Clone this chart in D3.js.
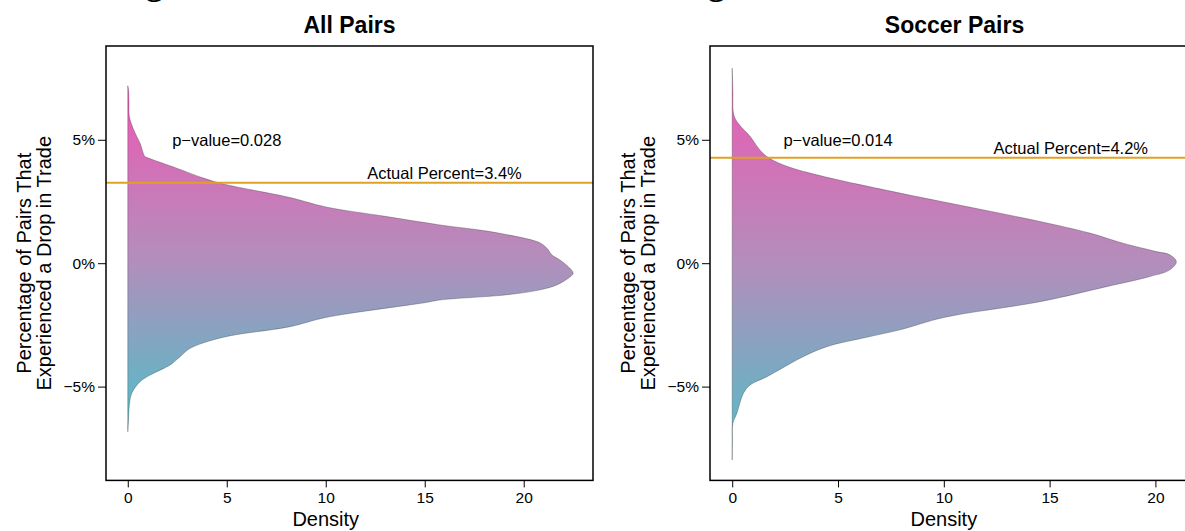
<!DOCTYPE html>
<html>
<head>
<meta charset="utf-8">
<script src="https://cdn.jsdelivr.net/npm/d3@7"></script>
<style>
  body { margin: 0; background: #fff; }
  svg { display: block; font-family: "Liberation Sans", Arial, sans-serif; }
</style>
</head>
<body>
<svg id="chart" width="1185" height="531"></svg>
<script>
// panel titles and annotations
var titles = ["All Pairs", "Soccer Pairs"];
var pValues = ["p\u2212value=0.028", "p\u2212value=0.014"];
var actualLabels = ["Actual Percent=3.4%", "Actual Percent=4.2%"];
var actualLine = [3.26, 4.27];

var xTicks = [0, 5, 10, 15, 20];
var yTicks = [-5, 0, 5];

// density outline (percent, density), top to bottom
var allPct = [7.19, 7.0, 6.5, 5.94, 5.4, 4.86, 4.32, 4.26, 3.85, 3.45, 3.21, 2.66, 2.28, 1.9, 1.55, 1.28, 0.88, 0.74, 0.54, 0.34, 0.13, -0.14, -0.41, -0.61, -0.88, -1.08, -1.28, -1.49, -1.6, -2.2, -2.57, -3.0, -3.45, -3.79, -4.12, -4.53, -4.8, -5.27, -5.74, -6.3, -6.83];
var allDens = [0.0, 0.04, 0.06, 0.08, 0.3, 0.62, 0.87, 1.04, 2.47, 3.82, 4.83, 8.2, 10.0, 13.0, 15.77, 18.3, 20.66, 20.99, 21.24, 21.41, 21.83, 22.25, 22.5, 22.25, 21.67, 20.83, 19.14, 15.77, 15.0, 10.0, 8.2, 4.83, 3.15, 2.64, 2.14, 1.13, 0.62, 0.2, 0.08, 0.04, 0.0];

var soccerPct = [7.9, 7.0, 6.08, 5.74, 5.13, 4.66, 4.32, 3.98, 3.58, 2.84, 2.48, 1.69, 1.22, 0.81, 0.47, 0.34, 0.06, -0.27, -0.54, -0.95, -1.56, -2.2, -2.7, -3.0, -3.38, -3.85, -4.6, -4.93, -5.27, -6.08, -6.49, -7.2, -7.97];
var soccerDens = [0.0, 0.03, 0.06, 0.22, 0.85, 1.24, 1.64, 2.42, 4.0, 7.93, 10.0, 14.54, 16.9, 18.47, 20.05, 20.68, 20.99, 20.68, 19.74, 17.69, 14.54, 10.0, 7.93, 6.36, 4.47, 3.21, 1.64, 0.85, 0.53, 0.22, 0.03, 0.01, 0.0];

var svg = d3.select("#chart");

// cut-off heading at the very top
svg.append("text").attr("x", 146).attr("y", -5.5)
  .style("font-family", "Liberation Serif").style("font-weight", "bold").style("font-size", "34px").text("g");
svg.append("text").attr("x", 708).attr("y", -5.5)
  .style("font-family", "Liberation Serif").style("font-weight", "bold").style("font-size", "34px").text("g");

var panels = [
  { id: 0, pct: allPct, dens: allDens, xDom: [-1.1, 23.5], left: 106, right: 593 },
  { id: 1, pct: soccerPct, dens: soccerDens, xDom: [-1.05, 22.06], left: 710, right: 1199 }
];

var plotTop = 46, plotBottom = 480.4;
var y = d3.scaleLinear().domain([-8.8, 8.8]).range([plotBottom, plotTop]);

panels.forEach(function(p) {
  var i = p.id;
  var x = d3.scaleLinear().domain(p.xDom).range([p.left, p.right]);
  var g = svg.append("g");
  var pts = p.pct.map(function(v, k) { return { pct: v, dens: p.dens[k] }; });

  // vertical pink -> teal gradient across the data range
  var grad = svg.append("defs").append("linearGradient")
    .attr("id", "grad" + i)
    .attr("gradientUnits", "userSpaceOnUse")
    .attr("x1", 0).attr("x2", 0)
    .attr("y1", y(d3.max(p.pct))).attr("y2", y(d3.min(p.pct)));
  grad.append("stop").attr("offset", "0%").attr("stop-color", "#EE57B4");
  grad.append("stop").attr("offset", "50%").attr("stop-color", "#B38EBB");
  grad.append("stop").attr("offset", "100%").attr("stop-color", "#4EBFC8");

  var area = d3.area()
    .y(function(d) { return y(d.pct); })
    .x0(x(0))
    .x1(function(d) { return x(d.dens); })
    .curve(d3.curveCatmullRom.alpha(0.5));

  g.append("path")
    .datum(pts)
    .attr("d", area)
    .attr("fill", "url(#grad" + i + ")")
    .attr("stroke", "#222")
    .attr("stroke-width", 0.5)
    .attr("stroke-opacity", 0.6);

  // actual percent line
  g.append("line")
    .attr("x1", p.left).attr("x2", Math.min(p.right, 1185))
    .attr("y1", y(actualLine[i])).attr("y2", y(actualLine[i]))
    .attr("stroke", "#E0A125").attr("stroke-width", 2);

  g.append("text")
    .attr("x", x(5)).attr("y", y(5)).attr("dy", "0.35em")
    .attr("text-anchor", "middle").style("font-size", "16.5px")
    .text(pValues[i]);

  g.append("text")
    .attr("x", x(16)).attr("y", y(actualLine[i] + 0.4)).attr("dy", "0.35em")
    .attr("text-anchor", "middle").style("font-size", "16.5px")
    .text(actualLabels[i]);

  // box
  g.append("rect")
    .attr("x", p.left).attr("y", plotTop)
    .attr("width", p.right - p.left).attr("height", plotBottom - plotTop)
    .attr("fill", "none").attr("stroke", "#000").attr("stroke-width", 1.5);

  // axes
  var xAxis = d3.axisBottom(x).tickValues(xTicks).tickSize(7).tickPadding(5).tickFormat(d3.format("d"));
  var gx = g.append("g").attr("transform", "translate(0," + plotBottom + ")").call(xAxis);
  gx.select(".domain").remove();
  gx.attr("font-size", null).attr("font-family", null);
  gx.selectAll("text").style("font-size", "15.5px").attr("fill", "#000");

  var yAxis = d3.axisLeft(y).tickValues(yTicks).tickSize(8).tickPadding(3)
    .tickFormat(function(d) { return (d < 0 ? "\u2212" + (-d) : d) + "%"; });
  var gy = g.append("g").attr("transform", "translate(" + p.left + ",0)").call(yAxis);
  gy.select(".domain").remove();
  gy.attr("font-size", null).attr("font-family", null);
  gy.selectAll("text").style("font-size", "15.5px").attr("fill", "#000");

  // titles
  g.append("text")
    .attr("x", (p.left + p.right) / 2).attr("y", 33)
    .attr("text-anchor", "middle").style("font-size", "23px").style("font-weight", "bold")
    .text(titles[i]);

  g.append("text")
    .attr("x", x(10)).attr("y", 526)
    .attr("text-anchor", "middle").style("font-size", "20px")
    .text("Density");

  var ly = g.append("text")
    .attr("transform", "translate(" + (p.left - 75) + "," + y(0) + ") rotate(-90)")
    .attr("text-anchor", "middle").style("font-size", "20px");
  ly.append("tspan").attr("x", 0).attr("dy", 0).text("Percentage of Pairs That");
  ly.append("tspan").attr("x", 0).attr("dy", 20).text("Experienced a Drop in Trade");
});
</script>
</body>
</html>
